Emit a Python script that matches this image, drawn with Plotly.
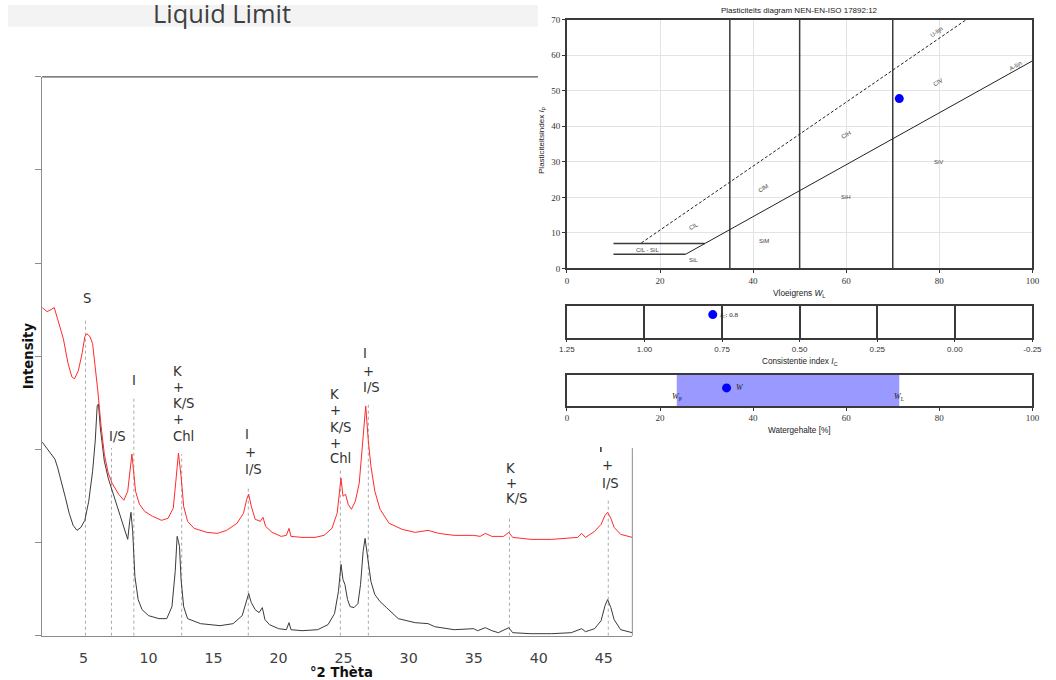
import plotly.graph_objects as go

# ---------------- XRD data (arbitrary intensity units) ----------------
red_theta = [1.82, 2.2, 2.5, 2.75, 3.0, 3.45, 3.8, 4.1, 4.3, 4.6, 4.9, 5.1, 5.25, 5.5, 5.7, 5.9, 6.1, 6.35, 6.6, 6.9,
             7.2, 7.7, 8.1, 8.4, 8.6, 8.72, 8.85, 9.0, 9.3, 9.7, 10.3, 11.0, 11.5, 11.9, 12.1, 12.3, 12.5, 12.7, 13.0, 13.5,
             14.5, 15.3, 16.0, 16.8, 17.3, 17.55, 17.7, 17.9, 18.2, 18.6, 18.8, 19.0, 19.5, 20.2, 20.6, 20.8, 20.95, 21.8, 22.8, 23.5,
             24.1, 24.5, 24.8, 24.95, 25.15, 25.35, 25.6, 25.9, 26.2, 26.45, 26.7, 26.9, 27.1, 27.4, 27.8, 28.5, 29.5, 30.5, 31.5, 32.3,
             33.5, 35.0, 35.5, 35.9, 36.4, 37.3, 37.7, 38.0, 39.4, 41.0, 42.5, 43.0, 43.3, 43.6, 44.3, 44.8, 45.1, 45.3, 45.55, 45.8,
             46.3, 47.2]
red_int = [3270, 3230, 3250, 3270, 3160, 2960, 2720, 2580, 2560, 2640, 2820, 2980, 3010, 2980, 2910, 2690, 2440, 2090, 1810, 1620,
           1520, 1410, 1350, 1440, 1690, 1810, 1640, 1440, 1310, 1240, 1190, 1150, 1170, 1270, 1540, 1820, 1590, 1290, 1140, 1070,
           1030, 1020, 1050, 1120, 1220, 1360, 1410, 1290, 1160, 1140, 1180, 1090, 1030, 990, 1000, 1070, 990, 980, 980, 1000,
           1070, 1220, 1570, 1390, 1410, 1310, 1260, 1340, 1520, 1890, 2290, 1940, 1690, 1440, 1260, 1120, 1060, 1030, 1050, 1020,
           1000, 1000, 990, 1020, 990, 990, 1030, 980, 960, 960, 970, 980, 1020, 980, 1040, 1110, 1200, 1230, 1170, 1080,
           1010, 980]

black_theta = [1.82, 2.1, 2.4, 2.8, 3.0, 3.3, 3.6, 3.9, 4.2, 4.5, 4.8, 5.1, 5.4, 5.7, 5.9, 6.05, 6.15, 6.3, 6.6, 6.9,
               7.3, 7.7, 8.1, 8.4, 8.55, 8.65, 8.78, 8.95, 9.2, 9.5, 10.0, 10.8, 11.4, 11.8, 12.05, 12.2, 12.3, 12.38, 12.5, 12.7,
               13.0, 14.0, 15.5, 16.5, 17.2, 17.5, 17.7, 17.9, 18.2, 18.5, 18.75, 18.95, 19.3, 20.0, 20.6, 20.8, 20.95, 21.8, 23.0, 23.8,
               24.3, 24.6, 24.8, 24.95, 25.1, 25.3, 25.5, 25.8, 26.1, 26.3, 26.5, 26.65, 26.85, 27.1, 27.4, 27.8, 28.3, 29.2, 30.5, 31.5,
               32.0, 33.5, 35.0, 35.3, 35.9, 36.4, 36.9, 37.7, 38.0, 39.4, 41.0, 42.5, 43.3, 43.6, 44.3, 44.8, 45.1, 45.3, 45.55, 45.8,
               46.3, 47.2]
black_int = [1930, 1880, 1820, 1760, 1680, 1540, 1380, 1220, 1100, 1050, 1080, 1150, 1340, 1640, 1940, 2290, 2310, 2060, 1740, 1570,
             1410, 1240, 1080, 960, 1140, 1230, 1040, 590, 360, 260, 200, 170, 170, 290, 640, 990, 940, 890, 560, 290,
             170, 120, 100, 120, 200, 340, 420, 330, 260, 230, 280, 160, 110, 70, 60, 130, 60, 50, 60, 110,
             220, 440, 710, 560, 510, 360, 290, 280, 320, 510, 840, 970, 790, 540, 410, 340, 280, 170, 130, 120,
             90, 60, 70, 50, 80, 50, 30, 80, 30, 20, 20, 30, 70, 40, 70, 150, 300, 360, 280, 160,
             60, 30]

# reference peak positions (°2θ) and the height the dotted marker line reaches
ref_theta = [5.15, 7.15, 8.87, 12.55, 17.67, 24.75, 26.9, 37.75, 45.35]
ref_top = [3140, 1870, 2390, 1810, 1490, 1670, 2310, 1190, 1370]

# peak labels: lines of text per label
label_lines = [["S"], ["I/S"], ["I"], ["K", "+", "K/S", "+", "Chl"], ["I", "+", "I/S"],
               ["K", "+", "K/S", "+", "Chl"], ["I", "+", "I/S"], ["K", "+", "K/S"], ["+", "I/S"]]
x_ticks = [5, 10, 15, 20, 25, 30, 35, 40, 45]

# ---------------- plasticity data ----------------
liquid_limit = 71.4
plasticity_index = 47.8
plastic_limit = 23.6
water_content = 34.3
consistency_index = 0.78
zone_bounds = [35, 50, 70]
u_line_x = [16, 85.8]
u_line_y = [7.2, 70]
a_line_x = [25.5, 100]
a_line_y = [4, 58.4]
h7_x = [10, 29.6]
h4_x = [10, 25.5]
zone_labels = ["U-lijn", "A-lijn", "ClV", "ClH", "SiV", "ClM", "SiH", "ClL", "SiM", "ClL - SiL", "SiL"]
zone_ll = [79.4, 96.4, 79.8, 59.9, 79.8, 42.3, 60.0, 27.3, 42.3, 17.4, 27.3]
zone_pi = [66.4, 57.0, 52.5, 37.6, 30.0, 22.6, 20.0, 11.9, 7.6, 5.1, 2.3]
zone_angle = [-34, -29, -30, -30, 0, -30, 0, -30, 0, 0, 0]
ic_ticks = [1.25, 1.0, 0.75, 0.5, 0.25, 0.0, -0.25]

# ---------------- helpers for placement (target screen pixels -> paper) ----------------
W, H = 1056, 680
SX, OX = 0.984, 6.5   # observed page->photo scaling / offset, compensated here
SY, OY = 0.982, 5.4
def px(x):
    return min(max(((x - OX) / SX) / W, 0), 1)
def py(y):
    return min(max(1 - ((y - OY) / SY) / H, 0), 1)
def fs(s):
    return s / SX

fig = go.Figure()

# dotted peak reference lines
rx, ry = [], []
for t, top in zip(ref_theta, ref_top):
    rx += [t, t, None]
    ry += [0, top, None]
fig.add_trace(go.Scatter(x=rx, y=ry, mode="lines", line=dict(color="#a8a8a8", width=1, dash="dot"),
                         xaxis="x", yaxis="y", hoverinfo="skip"))
fig.add_trace(go.Scatter(x=black_theta, y=black_int, mode="lines", line=dict(color="#3a3a3a", width=1),
                         xaxis="x", yaxis="y"))
fig.add_trace(go.Scatter(x=red_theta, y=red_int, mode="lines", line=dict(color="#ff2a2a", width=1),
                         xaxis="x", yaxis="y"))

# plasticity diagram
vx, vy = [], []
for b in zone_bounds:
    vx += [b, b, None]
    vy += [0, 70, None]
fig.add_trace(go.Scatter(x=vx, y=vy, mode="lines", line=dict(color="#3a3a3a", width=1.5), xaxis="x2", yaxis="y2"))
fig.add_trace(go.Scatter(x=h7_x + [None] + h4_x, y=[7, 7, None, 4, 4], mode="lines",
                         line=dict(color="#3a3a3a", width=1.5), xaxis="x2", yaxis="y2"))
fig.add_trace(go.Scatter(x=u_line_x, y=u_line_y, mode="lines", line=dict(color="#222", width=1, dash="3px,2px"),
                         xaxis="x2", yaxis="y2"))
fig.add_trace(go.Scatter(x=a_line_x, y=a_line_y, mode="lines", line=dict(color="#222", width=1),
                         xaxis="x2", yaxis="y2"))
fig.add_trace(go.Scatter(x=[liquid_limit], y=[plasticity_index], mode="markers",
                         marker=dict(color="#0000ff", size=9), xaxis="x2", yaxis="y2"))

# consistency index
fig.add_trace(go.Scatter(x=[consistency_index], y=[0.72], mode="markers",
                         marker=dict(color="#0000ff", size=9), xaxis="x3", yaxis="y3"))

# water content band
fig.add_trace(go.Scatter(x=[plastic_limit, liquid_limit, liquid_limit, plastic_limit, plastic_limit],
                         y=[0, 0, 1, 1, 0], mode="lines", fill="toself", fillcolor="#9999ff",
                         line=dict(width=0, color="#9999ff"), xaxis="x4", yaxis="y4"))
fig.add_trace(go.Scatter(x=[water_content], y=[0.58], mode="markers",
                         marker=dict(color="#0000ff", size=9), xaxis="x4", yaxis="y4"))

ann = []
def A(**kw):
    kw.setdefault("showarrow", False)
    kw.setdefault("xanchor", "center")
    kw.setdefault("yanchor", "middle")
    ann.append(kw)

# title band
A(text="Liquid Limit", x=px(221), y=py(13), xref="paper", yref="paper",
  font=dict(family="Open Sans", size=fs(25), color="#3f3f3f"))
A(text="<b>Intensity</b>", x=px(27), y=py(355), xref="paper", yref="paper",
  textangle=-90, font=dict(family="DejaVu Sans", size=fs(13), color="#111"))
A(text="<b>°2 Thèta</b>", x=px(340), y=py(671), xref="paper", yref="paper",
  font=dict(family="DejaVu Sans", size=fs(13), color="#111"))

# peak labels: (left/center 2θ, anchor, pixel y of each line)
label_x = [5.23, 6.77, 8.85, 11.69, 17.23, 23.77, 26.31, 37.31, 44.69]
label_anchor = ["center", "left", "center", "left", "left", "left", "left", "left", "left"]
label_py = [[298], [435], [380], [371, 387, 403, 419, 435], [433, 451, 468],
            [394, 410, 426, 442, 457], [353, 371, 387], [467, 482, 497], [464, 482]]
for lines, lx, anc, pys in zip(label_lines, label_x, label_anchor, label_py):
    for t, yy in zip(lines, pys):
        A(text=t, x=lx, y=py(yy), xref="x", yref="paper", xanchor=anc,
          font=dict(family="DejaVu Sans", size=fs(13), color="#333"))

# plasticity panel texts
pf = "Liberation Sans"
A(text="Plasticiteits diagram NEN-EN-ISO 17892:12", x=px(799), y=py(11), xref="paper", yref="paper",
  font=dict(family=pf, size=8, color="#222"))
A(text="Vloeigrens <i>W</i><sub>L</sub>", x=px(799), y=py(293), xref="paper", yref="paper",
  font=dict(family=pf, size=8.3, color="#222"))
A(text="Plasticiteitsindex <i>I</i><sub>P</sub>", x=px(541), y=py(140), xref="paper", yref="paper",
  textangle=-90, font=dict(family=pf, size=8, color="#222"))
A(text="Consistentie index <i>I</i><sub>C</sub>", x=px(799), y=py(361), xref="paper", yref="paper",
  font=dict(family=pf, size=8.2, color="#222"))
A(text="Watergehalte [%]", x=px(799), y=py(429), xref="paper", yref="paper",
  font=dict(family=pf, size=8.2, color="#222"))
for t, lx, ly, ang in zip(zone_labels, zone_ll, zone_pi, zone_angle):
    A(text=t, x=lx, y=ly, xref="x2", yref="y2", textangle=ang,
      font=dict(family=pf, size=6, color="#4d4040"))
A(text="<i>I</i><sub>C</sub>: 0.8", x=consistency_index, y=0.72, xref="x3", yref="y3",
  xanchor="left", xshift=4, font=dict(family="Liberation Serif", size=7, color="#222"))
A(text="<i>W</i>", x=water_content, y=0.58, xref="x4", yref="y4",
  xanchor="left", xshift=7, font=dict(family="Liberation Serif", size=8, color="#222"))
A(text="<i>W</i><sub>P</sub>", x=plastic_limit, y=0.28, xref="x4", yref="y4",
  font=dict(family="Liberation Serif", size=8, color="#222"))
A(text="<i>W</i><sub>L</sub>", x=liquid_limit, y=0.28, xref="x4", yref="y4",
  font=dict(family="Liberation Serif", size=8, color="#222"))

shapes = [
    dict(type="rect", xref="paper", yref="paper", x0=0, x1=px(537), y0=py(27), y1=1,
         fillcolor="#f3f3f3", line=dict(width=0), layer="below"),
    dict(type="line", xref="paper", yref="paper", x0=px(40.7), x1=px(537), y0=py(77), y1=py(77),
         line=dict(color="#555", width=1.3)),
    dict(type="line", xref="paper", yref="paper", x0=px(631.5), x1=px(631.5), y0=py(447), y1=py(634),
         line=dict(color="#8c8c8c", width=1)),
    dict(type="line", xref="paper", yref="paper", x0=px(600), x1=px(600), y0=py(446), y1=py(451),
         line=dict(color="#333", width=1.5)),
]

ser = dict(family="Liberation Serif", size=9, color="#333")
frame = dict(showline=True, mirror=True, linecolor="#3a3a3a", linewidth=1.5, zeroline=False)

fig.update_layout(
    width=W, height=H, margin=dict(l=0, r=0, t=0, b=0), autosize=False,
    paper_bgcolor="white", plot_bgcolor="white", showlegend=False,
    xaxis=dict(domain=[px(40.7), px(631.5)], range=[1.82, 47.2], anchor="y", showline=True,
               linecolor="#8c8c8c", linewidth=1, ticks="outside", ticklen=9, tickcolor="rgba(0,0,0,0)",
               tickvals=x_ticks, tickfont=dict(family="DejaVu Sans", size=fs(14), color="#404040"),
               showgrid=False, zeroline=False),
    yaxis=dict(domain=[py(634), py(77)], range=[0, 5570], anchor="x", showline=True, linecolor="#8c8c8c",
               linewidth=1, ticks="outside", ticklen=6, tickcolor="#8c8c8c", tick0=0, dtick=928.33,
               showticklabels=False, showgrid=False, zeroline=False),
    xaxis2=dict(domain=[px(566), px(1032)], range=[0, 100], anchor="y2", tickvals=[0, 20, 40, 60, 80, 100],
                ticks="outside", ticklen=3, tickcolor="#333", tickfont=ser, showgrid=True,
                gridcolor="#e3e3e3", gridwidth=1.2, **frame),
    yaxis2=dict(domain=[py(268), py(20)], range=[0, 70], anchor="x2", dtick=10, ticks="outside", ticklen=3,
                tickcolor="#333", tickfont=ser, showgrid=True, gridcolor="#e3e3e3", gridwidth=1.2, **frame),
    xaxis3=dict(domain=[px(566), px(1032)], range=[1.25, -0.25], anchor="y3", tickvals=ic_ticks,
                ticktext=[f"{v:.2f}" for v in ic_ticks], ticks="outside", ticklen=3, tickcolor="#333",
                tickfont=dict(family="Liberation Sans", size=8, color="#333"), showgrid=True,
                gridcolor="#3a3a3a", gridwidth=1.5, **frame),
    yaxis3=dict(domain=[py(337), py(305)], range=[0, 1], anchor="x3", showticklabels=False, ticks="",
                showgrid=False, **frame),
    xaxis4=dict(domain=[px(566), px(1032)], range=[0, 100], anchor="y4", tickvals=[0, 20, 40, 60, 80, 100],
                ticks="outside", ticklen=3, tickcolor="#333", tickfont=ser, showgrid=False, **frame),
    yaxis4=dict(domain=[py(405), py(374)], range=[0, 1], anchor="x4", showticklabels=False, ticks="",
                showgrid=False, **frame),
    annotations=ann, shapes=shapes,
)

fig.write_html("out.html",
               config={"responsive": False, "displayModeBar": False},
               post_script="document.body.style.margin='0';document.body.style.padding='0';"
                           "document.documentElement.style.overflow='hidden';")
